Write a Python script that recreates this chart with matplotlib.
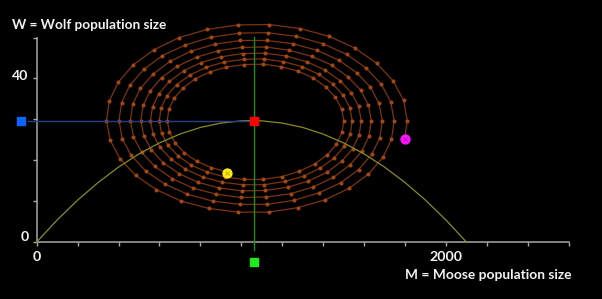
import matplotlib
matplotlib.use("Agg")
import matplotlib.pyplot as plt

# ---------------- data ----------------
# trajectory (moose M, wolves W), starting at the magenta point, spiralling inward
traj_M = [1797,
    1811, 1793, 1742, 1662, 1557, 1430, 1288, 1137, 983, 834, 695, 573, 473, 399, 355,
    341, 359, 407, 483, 585, 706, 842, 986, 1133, 1276, 1409, 1526, 1621, 1692, 1734,
    1747, 1730, 1684, 1611, 1515, 1399, 1269, 1130, 990, 853, 726, 614, 523, 455, 415,
    402, 418, 462, 532, 625, 736, 860, 993, 1127, 1258, 1379, 1486, 1573, 1638, 1677,
    1689, 1673, 1631, 1564, 1476, 1370, 1251, 1124, 996, 871, 755, 652, 569, 507, 469,
    458, 473, 513, 577, 662, 763, 877, 998, 1121, 1241, 1352, 1450, 1530, 1589, 1624,
    1635, 1621, 1583, 1521, 1441, 1344, 1235, 1119, 1001, 887, 781, 687, 610, 554, 520,
    509, 523, 560, 618, 696, 789, 893, 1004, 1116, 1226, 1327, 1417, 1490, 1544, 1576,
    1586, 1573, 1538, 1482, 1408, 1319, 1220, 1114, 1006, 901, 804, 719, 649, 597, 566,
    556, 569, 602, 656, 727, 812, 907, 1008, 1111, 1212, 1305, 1386, 1453, 1503, 1533,
    1542, 1530, 1498, 1446, 1379, 1297, 1206, 1109, 1011, 915, 826, 748, 684, 636, 608,
    599, 610, 641, 690, 755, 833, 920, 1013, 1107, 1199, 1284, 1359, 1420, 1465, 1492,
    1501, 1490, 1460, 1414, 1352, 1277, 1194, 1105, 1015, 927, 846, 774, 716, 672, 646,
    638, 649, 677, 722, 781, 852, 932]
traj_W = [24.7,
    29.7, 34.7, 39.4, 43.7, 47.4, 50.3, 52.2, 53.2, 53.1, 52.0, 50.0, 47.0, 43.4, 39.1, 34.5,
    29.7, 24.9, 20.4, 16.3, 12.8, 10.0, 8.2, 7.3, 7.3, 8.4, 10.3, 13.1, 16.6, 20.7, 25.1,
    29.7, 34.3, 38.6, 42.5, 45.9, 48.5, 50.3, 51.2, 51.1, 50.1, 48.2, 45.6, 42.2, 38.3, 34.1,
    29.7, 25.3, 21.2, 17.4, 14.2, 11.7, 10.0, 9.2, 9.2, 10.2, 12.0, 14.5, 17.7, 21.5, 25.5,
    29.7, 33.9, 37.9, 41.4, 44.5, 46.9, 48.5, 49.3, 49.3, 48.4, 46.7, 44.2, 41.1, 37.6, 33.7,
    29.7, 25.7, 21.9, 18.5, 15.5, 13.2, 11.7, 10.9, 11.0, 11.8, 13.5, 15.8, 18.8, 22.2, 25.9,
    29.7, 33.5, 37.2, 40.4, 43.3, 45.4, 46.9, 47.7, 47.6, 46.8, 45.2, 43.0, 40.2, 36.9, 33.4,
    29.7, 26.0, 22.6, 19.4, 16.7, 14.6, 13.2, 12.5, 12.6, 13.4, 14.9, 17.0, 19.7, 22.8, 26.2,
    29.7, 33.2, 36.5, 39.5, 42.1, 44.1, 45.5, 46.2, 46.1, 45.3, 43.9, 41.9, 39.3, 36.3, 33.1,
    29.7, 26.4, 23.2, 20.3, 17.8, 15.9, 14.6, 14.0, 14.0, 14.8, 16.1, 18.1, 20.5, 23.4, 26.5,
    29.7, 32.9, 35.9, 38.7, 41.0, 42.9, 44.1, 44.8, 44.7, 44.0, 42.7, 40.8, 38.5, 35.8, 32.8,
    29.7, 26.6, 23.7, 21.1, 18.8, 17.1, 15.9, 15.3, 15.3, 16.0, 17.3, 19.1, 21.3, 23.9, 26.8,
    29.7, 32.6, 35.4, 37.9, 40.1, 41.8, 42.9, 43.5, 43.4, 42.8, 41.6, 39.9, 37.7, 35.2, 32.5,
    29.7, 26.9, 24.2, 21.8, 19.8, 18.2, 17.1]

# curve through the equilibrium (nullcline-like parabola)
curve_M = [0, 100, 200, 300, 400, 500, 600, 700, 800, 900, 1000, 1050, 1100, 1200,
           1300, 1400, 1500, 1600, 1700, 1800, 1900, 2000, 2100]
curve_W = [0, 5.39, 10.24, 14.55, 18.32, 21.55, 24.24, 26.40, 28.02, 29.09, 29.63, 29.70,
           29.63, 29.09, 28.02, 26.40, 24.24, 21.55, 18.32, 14.55, 10.24, 5.39, 0]

eq_M, eq_W = 1060, 29.7          # equilibrium (red square)
start_M, start_W = 1800, 25.1    # magenta point
end_M, end_W = 930, 16.9         # yellow point
blue_M = -77                     # blue marker on W axis
green_W = -4.9                   # green marker below M axis
vline_W = [50.2, -2.0]

x_ticks = list(range(0, 2601, 200))
y_ticks = list(range(0, 51, 10))
x_labels = {0: "0", 2000: "2000"}
y_labels = {0: "0", 40: "40"}
x_title = "M = Moose population size"
y_title = "W = Wolf population size"

# ---------------- drawing ----------------
FONT = "Lato"
W_PX, H_PX = 602, 299
fig = plt.figure(figsize=(W_PX / 100, H_PX / 100), dpi=100, facecolor="black")
ax = fig.add_axes([0, 0, 1, 1])
ax.set_facecolor("black")
ax.set_xlim(-179.4, 2762.8)
ax.set_ylim(-13.95, 59.2)

for s in ["top", "right"]:
    ax.spines[s].set_visible(False)
axis_col = "#a8a8a8"
ax.spines["left"].set_position(("data", 0))
ax.spines["bottom"].set_position(("data", 0))
ax.spines["left"].set_bounds(0, 50)
ax.spines["bottom"].set_bounds(0, 2600)
for s in ["left", "bottom"]:
    ax.spines[s].set_color(axis_col)
    ax.spines[s].set_linewidth(1.1)
ax.set_xticks(x_ticks)
ax.set_yticks(y_ticks)
ax.set_xticklabels([])
ax.set_yticklabels([])
ax.tick_params(axis="both", direction="out", length=3.2, width=1.0, color=axis_col)

# trajectory
ax.plot(traj_M, traj_W, color="#7c3410", lw=0.9, marker="o", ms=1.9,
        mfc="#a44616", mec="#a44616", zorder=2)

# curve, guide lines
ax.plot(curve_M, curve_W, color="#8a8a26", lw=0.9, zorder=3)
ax.plot([-42, eq_M], [eq_W, eq_W], color="#25408a", lw=1.0, zorder=3)
ax.plot([eq_M, eq_M], vline_W, color="#1f8a1f", lw=1.0, zorder=3)

# markers
ax.plot([eq_M], [eq_W], marker="s", ms=6.3, color="#ff0000", zorder=5)
ax.plot([blue_M], [eq_W], marker="s", ms=5.6, color="#0a64ff", zorder=5)
ax.plot([eq_M], [green_W], marker="s", ms=5.8, color="#1ee81e", zorder=5)
ax.plot([start_M], [start_W], marker="o", ms=6.4, color="#ff14ff", zorder=5)
ax.plot([start_M], [start_W], marker="x", ms=3.5, mew=0.8, color="#c010c0", zorder=6)
ax.plot([end_M], [end_W], marker="o", ms=6.4, color="#ffee10", zorder=5)
ax.plot([end_M], [end_W], marker="x", ms=3.5, mew=0.8, color="#c8b000", zorder=6)

# texts
tc = "#f2f2f2"
for v, lab in x_labels.items():
    ax.text(v, -4.75, lab, color=tc, fontsize=10.2, fontweight="bold", family=FONT,
            ha="center", va="baseline")
for v, lab in y_labels.items():
    ax.text(-40, v + (0.3 if v == 0 else -0.3), lab, color=tc, fontsize=10.2,
            fontweight="bold", family=FONT, ha="right", va="baseline")
ax.text(1800, -9.13, x_title, color=tc, fontsize=9.9, fontweight="bold", family=FONT,
        ha="left", va="baseline")
ax.text(-120.7, 52.06, y_title, color=tc, fontsize=9.8, fontweight="bold", family=FONT,
        ha="left", va="baseline")

fig.savefig("out.png", dpi=100, facecolor="black")
